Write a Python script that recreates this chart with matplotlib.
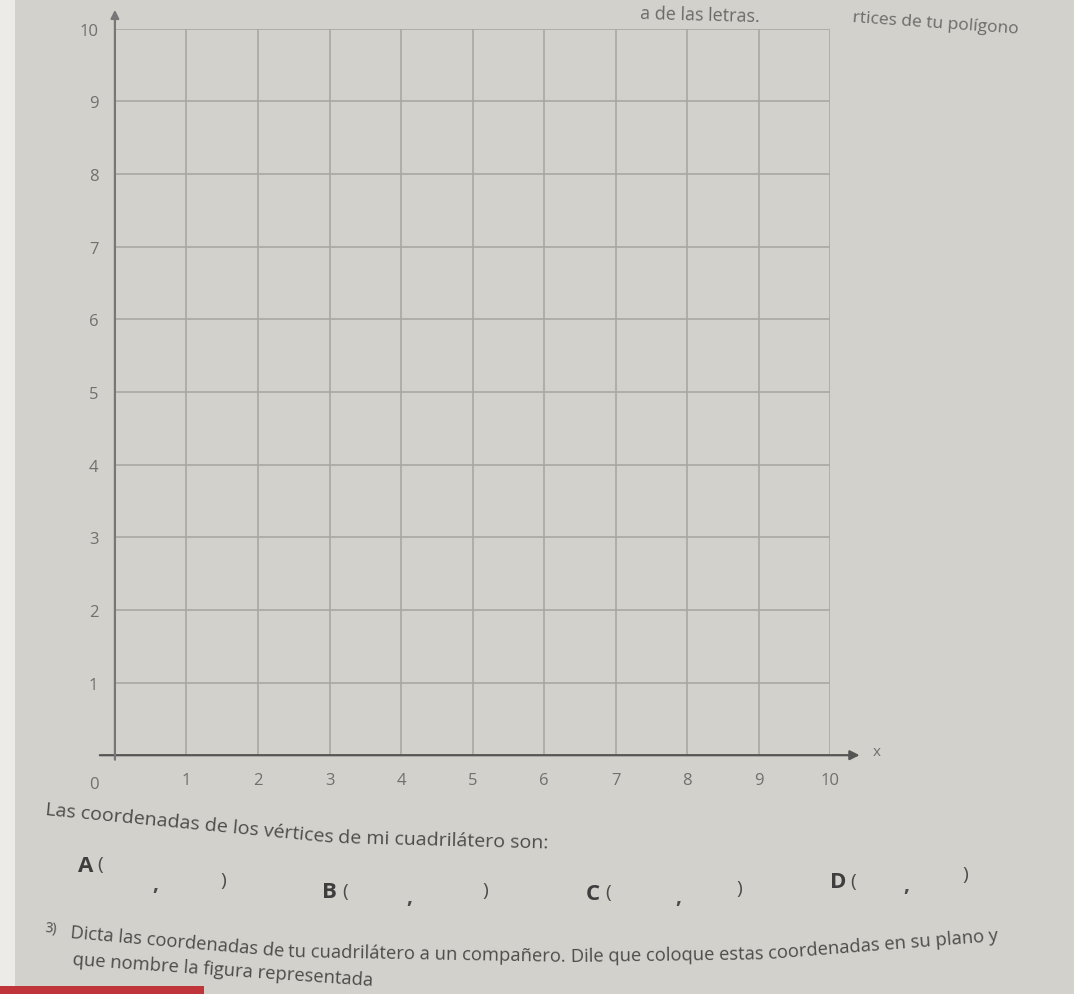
import matplotlib
matplotlib.use("Agg")
import math
import matplotlib.pyplot as plt
from matplotlib.patches import Rectangle

x_ticks = [0, 1, 2, 3, 4, 5, 6, 7, 8, 9, 10]
y_ticks = [0, 1, 2, 3, 4, 5, 6, 7, 8, 9, 10]
x_labels = ["", "1", "2", "3", "4", "5", "6", "7", "8", "9", "10"]
y_labels = ["", "1", "2", "3", "4", "5", "6", "7", "8", "9", "10"]
vertex_names = ["A", "B", "C", "D"]

plt.rcParams['font.family'] = ['Open Sans', 'DejaVu Sans']
bg = '#d2d1cb'
W, H = 1074, 995
fig = plt.figure(figsize=(W / 100, H / 100), dpi=100, facecolor=bg)
renderer = fig.canvas.get_renderer()

# white strip at the left edge and red band at bottom
fig.patches.append(Rectangle((0, 0), 0.014, 1, transform=fig.transFigure,
                             facecolor='#ecebe7', edgecolor='none', zorder=0))
fig.patches.append(Rectangle((0, 0), 0.19, 0.008, transform=fig.transFigure,
                             facecolor='#c0353a', edgecolor='none', zorder=1))

ax = fig.add_axes([0.107, 0.240, 0.666, 0.730])
ax.set_facecolor(bg)
ax.set_xlim(0, 10)
ax.set_ylim(0, 10)
for v in x_ticks[1:]:
    ax.axvline(v, color='#a8a8a3', lw=1.2, zorder=1)
for v in y_ticks[1:]:
    ax.axhline(v, color='#a8a8a3', lw=1.2, zorder=1)
for s in ax.spines.values():
    s.set_visible(False)
ax.set_xticks(x_ticks)
ax.set_yticks(y_ticks)
ax.set_xticklabels(x_labels, fontsize=12, color='#707070')
ax.set_yticklabels(y_labels, fontsize=12, color='#707070')
ax.tick_params(length=0, pad=12)

# axes with arrows
ax.annotate('', xy=(10.45, 0), xytext=(-0.25, 0),
            arrowprops=dict(arrowstyle='-|>', color='#555555', lw=1.6,
                            mutation_scale=14),
            annotation_clip=False, zorder=3)
ax.annotate('', xy=(0, 10.3), xytext=(0, -0.1),
            arrowprops=dict(arrowstyle='-|>', color='#777777', lw=1.6,
                            mutation_scale=12),
            annotation_clip=False, zorder=3)
ax.text(10.6, 0.05, 'x', fontsize=11, color='#707070', va='center')
ax.text(-0.3, -0.4, '0', fontsize=12, color='#707070', ha='center', va='center')


def chain(segments, x0, y0, size, color, weight='normal'):
    """Write text segments one after another along a bending baseline (pixel coords, y down)."""
    x, y = x0, y0
    for txt, rot in segments:
        fig.text(x / W, 1 - y / H, txt, fontsize=size, color=color,
                 fontweight=weight, ha='left', va='baseline',
                 rotation=rot, rotation_mode='anchor')
        tmp = fig.text(0, 0, txt + ' ', fontsize=size, fontweight=weight)
        w = tmp.get_window_extent(renderer).width
        tmp.remove()
        x += w * math.cos(math.radians(rot))
        y -= w * math.sin(math.radians(rot))


# top clipped texts
fig.text(640 / W, 1 - 14 / H, 'a de las letras.', fontsize=13, color='#6a6a6a',
         va='center', rotation=-1.5, rotation_mode='anchor')
fig.text(853 / W, 1 - 18 / H, 'rtices de tu polígono', fontsize=12.5, color='#6a6a6a',
         va='center', rotation=-4, rotation_mode='anchor')

txtc = '#4c4c4c'
# instruction line
chain([('Las coordenadas de los vértices', -5.5), ('de mi cuadrilátero son:', -1.5)],
      45, 815, 14, txtc)

# vertex placeholders: letter, '(', ',', ')' positions (pixels)
vertex_layout = [
    [(78, 872), (97, 870), (152, 890), (220, 886)],
    [(322, 898), (342, 897), (406, 903), (482, 896)],
    [(586, 900), (605, 898), (675, 903), (736, 894)],
    [(830, 888), (850, 887), (903, 891), (962, 880)],
]
for name, pos in zip(vertex_names, vertex_layout):
    (lx, ly), (ox, oy), (cx, cy), (rx, ry) = pos
    fig.text(lx / W, 1 - ly / H, name, fontsize=16, fontweight='bold', color='#3e3e3e', va='baseline')
    fig.text(ox / W, 1 - oy / H, '(', fontsize=14, color=txtc, va='baseline')
    fig.text(cx / W, 1 - cy / H, ',', fontsize=15, fontweight='bold', color=txtc, va='baseline')
    fig.text(rx / W, 1 - ry / H, ')', fontsize=14, color=txtc, va='baseline')

fig.text(45 / W, 1 - 932 / H, '3)', fontsize=10, color=txtc, va='baseline', rotation=-4,
         rotation_mode='anchor')
chain([('Dicta las coordenadas de', -5), ('tu cuadrilátero a un compañero.', -1),
       ('Dile que coloque estas', 0.8), ('coordenadas en su plano y', 4.5)],
      70, 938, 13.2, txtc)
chain([('que nombre la figura representada', -4)], 72, 965, 13.2, txtc)

fig.savefig('out.png', dpi=100, facecolor=bg)
